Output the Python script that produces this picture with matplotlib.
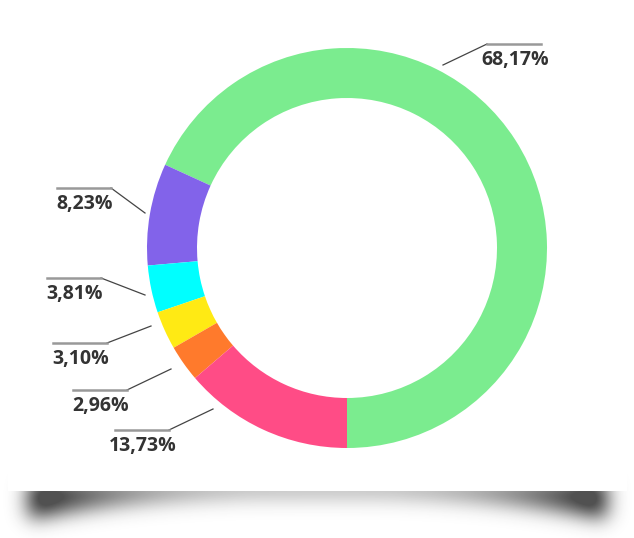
import numpy as np
import matplotlib
matplotlib.use("Agg")
import matplotlib.pyplot as plt
from matplotlib.patches import Rectangle

# data
labels = ["68,17%", "8,23%", "3,81%", "3,10%", "2,96%", "13,73%"]
values = [68.17, 8.23, 3.81, 3.10, 2.96, 13.73]
colors = ["#7BEC8F", "#8263EA", "#00FFFF", "#FFEA14", "#FF7A2C", "#FF4C86"]

W, H = 634, 538

# label layout in image pixels: leader start, elbow, end of horizontal bar
leader_start = [(443, 65), (145, 213), (145, 295), (151, 326), (171, 369), (213, 409)]
elbow = [(487, 44), (111, 188), (101, 278), (107, 343), (127, 390), (169, 430)]
bar_end = [(541, 44), (57, 188), (47, 278), (53, 343), (73, 390), (115, 430)]


def fy(y):
    return H - y


fig = plt.figure(figsize=(W / 100, H / 100), dpi=100)
fig.patch.set_facecolor("white")
ax = fig.add_axes([0, 0, 1, 1])
ax.set_xlim(0, W)
ax.set_ylim(0, H)
ax.set_aspect("equal")
ax.axis("off")

# soft shadow under the card (darker at the lifted corners)
X, Y = np.meshgrid(np.arange(W), np.arange(H))
t = np.abs(X - 317) / 290.0
bottom = 496 + 22 * t ** 2.5
mask = ((X > 28) & (X < 606) & (Y > 480) & (Y < bottom)).astype(float)
mask *= 0.35 + 0.65 * np.clip(t, 0, 1) ** 3


def blur(a, s):
    k = np.exp(-0.5 * (np.arange(-3 * s, 3 * s + 1) / s) ** 2)
    k /= k.sum()
    a = np.apply_along_axis(lambda r: np.convolve(r, k, mode="same"), 1, a)
    a = np.apply_along_axis(lambda c: np.convolve(c, k, mode="same"), 0, a)
    return a


shade = np.clip(blur(mask, 10) * 1.15, 0, 0.8)
rgba = np.zeros((H, W, 4))
rgba[..., :3] = 0.15
rgba[..., 3] = shade
ax.imshow(rgba, extent=(0, W, 0, H), origin="upper", zorder=0)

# white card
ax.add_patch(Rectangle((8, fy(491)), 619, 491, facecolor="white",
                       edgecolor="none", zorder=1))

ax.pie(values, colors=colors, startangle=-90, counterclock=True,
       center=(347, fy(248)), radius=200, frame=True,
       wedgeprops=dict(width=50, edgecolor="none", zorder=2))
ax.set_xlim(0, W)
ax.set_ylim(0, H)
ax.axis("off")

for lab, s, e, b in zip(labels, leader_start, elbow, bar_end):
    ax.plot([s[0], e[0]], [fy(s[1]), fy(e[1])], color="#444444", lw=0.9, zorder=3)
    ax.plot([e[0], b[0]], [fy(e[1]), fy(b[1])], color="#999999", lw=1.8, zorder=3)
    cx = (e[0] + b[0]) / 2 + 1
    ax.text(cx, fy(e[1] + 6), lab, ha="center", va="top", fontsize=14,
            fontweight="bold", family="Open Sans", color="#333333", zorder=4)

fig.savefig("out.png", dpi=100, facecolor="white")
